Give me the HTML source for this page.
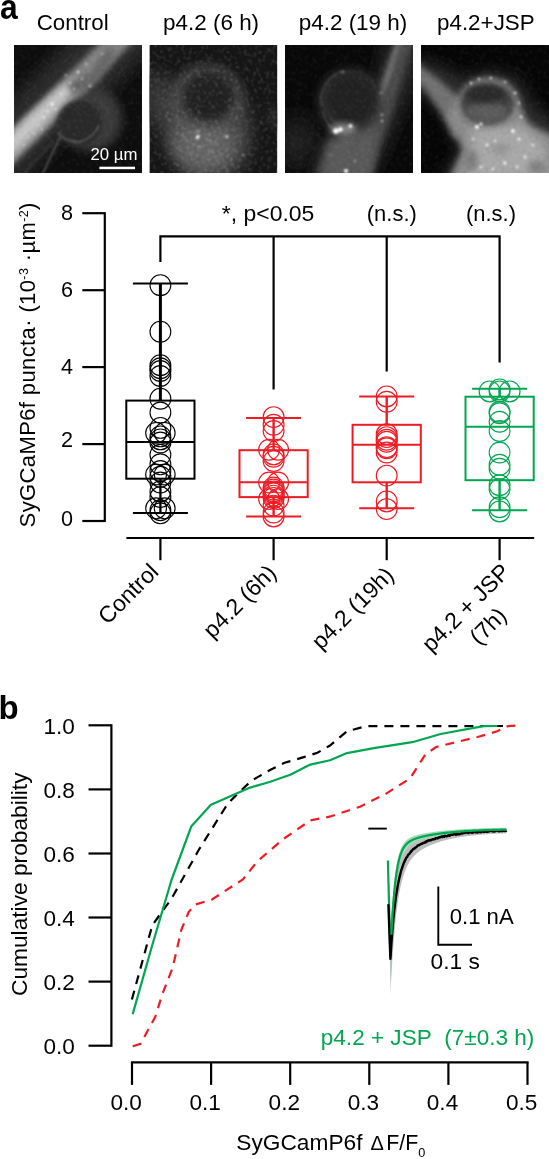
<!DOCTYPE html>
<html lang="en"><head><meta charset="utf-8"><title>Figure</title>
<style>
html,body{margin:0;padding:0;background:#fff;}
body{width:549px;height:1159px;overflow:hidden;}
svg{display:block;}
text{font-family:'Liberation Sans', Arial, Helvetica, sans-serif;}
</style></head><body>
<svg width="549" height="1159" viewBox="0 0 549 1159">
<defs>
<filter id="b1" x="-50%" y="-50%" width="200%" height="200%"><feGaussianBlur stdDeviation="1"/></filter>
<filter id="b2" x="-50%" y="-50%" width="200%" height="200%"><feGaussianBlur stdDeviation="2"/></filter>
<filter id="b3" x="-50%" y="-50%" width="200%" height="200%"><feGaussianBlur stdDeviation="3"/></filter>
<filter id="b5" x="-50%" y="-50%" width="200%" height="200%"><feGaussianBlur stdDeviation="5"/></filter>
<filter id="b8" x="-50%" y="-50%" width="200%" height="200%"><feGaussianBlur stdDeviation="8"/></filter>
<filter id="b12" x="-80%" y="-80%" width="260%" height="260%"><feGaussianBlur stdDeviation="12"/></filter>
<filter id="noise" x="0" y="0" width="100%" height="100%" color-interpolation-filters="sRGB">
<feTurbulence type="fractalNoise" baseFrequency="0.55" numOctaves="3" seed="4" result="t"/>
<feGaussianBlur in="t" stdDeviation="0.8" result="g"/>
<feColorMatrix in="g" type="matrix" values="0 0 0 0 1  0 0 0 0 1  0 0 0 0 1  12 0 0 0 -6"/>
</filter>
<filter id="noiseb" x="0" y="0" width="100%" height="100%" color-interpolation-filters="sRGB">
<feTurbulence type="fractalNoise" baseFrequency="0.55" numOctaves="3" seed="4" result="t"/>
<feGaussianBlur in="t" stdDeviation="0.8" result="g"/>
<feColorMatrix in="g" type="matrix" values="0 0 0 0 0  0 0 0 0 0  0 0 0 0 0  -12 0 0 0 6"/>
</filter>
</defs>
<rect width="549" height="1159" fill="#fff"/>
<g opacity="0.999">
<text x="-0.1" y="18.7" font-size="34.8" font-weight="bold" textLength="17.7" lengthAdjust="spacingAndGlyphs">a</text>
<text x="36.7" y="30.2" font-size="22.3" textLength="72" lengthAdjust="spacingAndGlyphs">Control</text>
<text x="163" y="30.2" font-size="22.5" textLength="96.1" lengthAdjust="spacingAndGlyphs">p4.2 (6 h)</text>
<text x="298.7" y="30.2" font-size="22.5" textLength="108.6" lengthAdjust="spacingAndGlyphs">p4.2 (19 h)</text>
<text x="437" y="30.2" font-size="22.5" textLength="97.7" lengthAdjust="spacingAndGlyphs">p4.2+JSP</text>
<svg x="14" y="45" width="128" height="128" viewBox="0 0 128 128" overflow="hidden">
<rect width="128" height="128" fill="#0e0e0e"/>
<g filter="url(#b8)"><polygon points="2.8,140.5 140.8,0.5 95.2,-44.5 -42.8,95.5" fill="#2c2c2c"/></g>
<g filter="url(#b5)"><ellipse cx="76" cy="74" rx="32" ry="32" fill="#3a3a3a"/></g>
<g filter="url(#b3)"><polygon points="-5.2,122.8 28.8,88.8 68.5,48.5 121.8,-6.2 106.2,-21.8 51.5,31.5 11.2,71.2 -22.8,105.2" fill="#848484"/></g>
<g filter="url(#b3)"><polygon points="-5.3,117.7 27.1,86.1 50.0,61.0 69.5,36.5 62.5,29.5 38.0,49.0 12.9,71.9 -18.7,104.3" fill="#a6a6a6"/></g>
<g filter="url(#b3)"><polygon points="-8.5,112.5 26.2,79.2 49.5,54.5 64.1,37.1 59.9,32.9 42.5,47.5 17.8,70.8 -15.5,105.5" fill="#c8c8c8"/></g>
<g filter="url(#b3)"><polygon points="59.6,51.2 84.1,36.3 102.2,6.7 93.8,1.3 75.9,27.7 52.4,36.8" fill="#666"/></g>
<g filter="url(#b2)"><circle cx="65.5" cy="78" r="22.5" fill="#2b2b2b"/></g>
<g filter="url(#b1)"><g fill="none" stroke="#606060" stroke-width="1.4"><path d="M44 88 Q52 97 64 97 Q78 95 85 80"/><path d="M46 92 L28 130"/><path d="M40 96 L10 128" stroke="#3a3a3a"/></g></g>
<g filter="url(#b1)"><circle cx="38" cy="59" r="1.5" fill="#fff"/><circle cx="64" cy="27" r="1.2" fill="#f0f0f0"/><circle cx="72" cy="19" r="1.1" fill="#ddd"/><circle cx="56" cy="38" r="1.1" fill="#e4e4e4"/><circle cx="30" cy="72" r="1.2" fill="#f0f0f0"/><circle cx="76" cy="41" r="1.2" fill="#ccc"/><circle cx="88" cy="9" r="1.0" fill="#ccc"/><circle cx="47" cy="49" r="1.1" fill="#f0f0f0"/><circle cx="24" cy="80" r="1.1" fill="#eee"/><circle cx="34" cy="66" r="1.1" fill="#eee"/><circle cx="68" cy="34" r="1.0" fill="#ddd"/><circle cx="14" cy="92" r="1.1" fill="#ddd"/><circle cx="52" cy="30" r="1.0" fill="#ccc"/><circle cx="42" cy="64" r="1.0" fill="#eee"/><circle cx="60" cy="44" r="1.0" fill="#d8d8d8"/><circle cx="20" cy="88" r="1.0" fill="#e8e8e8"/><circle cx="28" cy="84" r="1.0" fill="#e0e0e0"/><circle cx="10" cy="100" r="1.0" fill="#ddd"/></g>
<rect width="128" height="128" filter="url(#noise)" opacity="0.04"/><rect width="128" height="128" filter="url(#noiseb)" opacity="0.04"/>
<rect x="85.4" y="121.7" width="35.6" height="2.5" fill="#fff"/>
<g opacity="0.998"><text x="76.5" y="115.2" font-size="16.5" fill="#fff" textLength="47" lengthAdjust="spacingAndGlyphs">20 µm</text></g>
</svg>
<svg x="149.4" y="45" width="128" height="128" viewBox="0 0 128 128" overflow="hidden">
<rect width="128" height="128" fill="#171717"/>
<g filter="url(#b8)"><polygon points="-8,26 22,32 32,70 10,82 -8,66" fill="#343434"/></g>
<g filter="url(#b8)"><ellipse cx="57" cy="82" rx="43" ry="55" fill="#484848" transform="rotate(-14 57 82)"/></g>
<g filter="url(#b8)"><ellipse cx="54" cy="100" rx="30" ry="26" fill="#686868"/></g>
<g filter="url(#b5)"><ellipse cx="59" cy="52" rx="30" ry="28" fill="none" stroke="#505050" stroke-width="7"/></g>
<g filter="url(#b5)"><ellipse cx="59" cy="52.5" rx="26" ry="24" fill="#222"/></g>
<g filter="url(#b5)"><ellipse cx="124" cy="72" rx="6" ry="12" fill="#2c2c2c"/></g>
<g filter="url(#b1)"><circle cx="48.5" cy="92" r="1.9" fill="#fff"/><circle cx="77.5" cy="91.5" r="1.5" fill="#d0d0d0"/><circle cx="49" cy="86.5" r="1.1" fill="#c4c4c4"/><circle cx="49" cy="102" r="1" fill="#aaa"/><circle cx="60" cy="106" r="1" fill="#999"/><circle cx="94" cy="110" r="1" fill="#999"/></g>
<rect width="128" height="128" filter="url(#noise)" opacity="0.1"/><rect width="128" height="128" filter="url(#noiseb)" opacity="0.1"/>
</svg>
<svg x="285" y="45" width="128" height="128" viewBox="0 0 128 128" overflow="hidden">
<rect width="128" height="128" fill="#090909"/>
<g filter="url(#b12)"><ellipse cx="12" cy="98" rx="22" ry="26" fill="#222"/></g>
<g filter="url(#b8)"><polygon points="100,-8 136,-8 136,24 98,110 84,136 26,136 40,100 84,72" fill="#282828"/></g>
<g filter="url(#b3)"><polygon points="114.4,-12.6 99.0,26.9 85.7,62.2 69.9,95.2 54.0,130.6 82.0,141.4 94.1,104.8 106.3,69.8 117.0,33.1 129.6,-7.4" fill="#4c4c4c"/></g>
<g filter="url(#b2)"><polygon points="114.1,-10.6 100.9,29.3 90.1,61.3 93.9,62.7 105.1,30.7 117.9,-9.4" fill="#747474"/></g>
<g filter="url(#b5)"><polygon points="42,96 62,85 92,78 86,134 32,134" fill="#5a5a5a"/></g>
<g filter="url(#b5)"><circle cx="65.5" cy="56" r="32" fill="#343434"/></g>
<g filter="url(#b3)"><circle cx="66" cy="54" r="26" fill="#242424"/></g>
<g filter="url(#b1)"><path d="M37 62 A30 30 0 0 1 58 26" fill="none" stroke="#484848" stroke-width="1.3"/><path d="M38 66 Q40 78 48 84" fill="none" stroke="#505050" stroke-width="1.3"/></g>
<g filter="url(#b3)"><ellipse cx="58" cy="84" rx="14" ry="5.5" fill="#8a8a8a"/></g>
<g filter="url(#b1)"><circle cx="51" cy="86" r="2.8" fill="#fff"/><circle cx="55.5" cy="84.5" r="2.2" fill="#fff"/><circle cx="65.5" cy="81" r="2.0" fill="#f0f0f0"/><circle cx="61" cy="126" r="2.2" fill="#e8e8e8"/><circle cx="58" cy="27" r="1.6" fill="#777"/><circle cx="96" cy="48" r="1.2" fill="#888"/><circle cx="97" cy="70" r="1.4" fill="#999"/><circle cx="97" cy="76" r="1.4" fill="#999"/><circle cx="70" cy="116" r="1.3" fill="#999"/><circle cx="45" cy="110" r="1.2" fill="#888"/></g>
<rect width="128" height="128" filter="url(#noise)" opacity="0.035"/><rect width="128" height="128" filter="url(#noiseb)" opacity="0.035"/>
</svg>
<svg x="421" y="45" width="128" height="128" viewBox="0 0 128 128" overflow="hidden">
<rect width="128" height="128" fill="#060606"/>
<g filter="url(#b8)"><polygon points="-10,12 20,22 44,34 66,26 96,32 112,60 136,78 136,136 20,136 40,104 20,64 -10,42" fill="#2e2e2e"/></g>
<g filter="url(#b3)"><polygon points="-14.2,26.9 6.1,47.1 20.4,68.2 33.4,94.1 58.6,77.9 39.6,53.8 17.9,34.9 -5.8,17.1" fill="#727272"/></g>
<g filter="url(#b3)"><polygon points="41.6,44.3 51.5,35.7 66.4,32 83.7,35.7 96,48 101,65.4 108.5,80 136,92 136,136 27,136 41.6,105 34,87.7 26,70" fill="#8a8a8a"/></g>
<g filter="url(#b5)"><polygon points="48,84 100,80 124,100 126,132 44,134 52,108" fill="#a8a8a8"/></g>
<g filter="url(#b3)"><ellipse cx="50" cy="116" rx="7" ry="10" fill="#7c7c7c"/><ellipse cx="116" cy="122" rx="9" ry="7" fill="#808080"/><ellipse cx="80" cy="104" rx="8" ry="5" fill="#909090"/></g>
<g filter="url(#b3)"><ellipse cx="66.5" cy="58.5" rx="27" ry="20.5" fill="#3c3c3c"/></g>
<g filter="url(#b3)"><ellipse cx="66" cy="67" rx="21" ry="11" fill="#5c5c5c"/></g>
<g filter="url(#b3)"><ellipse cx="64" cy="49" rx="20" ry="9" fill="#2a2a2a"/></g>
<g filter="url(#b1)"><circle cx="56" cy="82" r="1.9" fill="#fff"/><circle cx="60" cy="79" r="1.5" fill="#f6f6f6"/><circle cx="92" cy="86" r="1.9" fill="#f6f6f6"/><circle cx="98" cy="94" r="1.6" fill="#f2f2f2"/><circle cx="66" cy="100" r="1.5" fill="#f2f2f2"/><circle cx="84" cy="118" r="1.7" fill="#f4f4f4"/><circle cx="104" cy="112" r="1.5" fill="#f2f2f2"/><circle cx="60" cy="122" r="1.6" fill="#f2f2f2"/><circle cx="50" cy="38" r="1.3" fill="#e0e0e0"/><circle cx="58" cy="34" r="1.2" fill="#e0e0e0"/><circle cx="70" cy="33" r="1.2" fill="#e0e0e0"/><circle cx="84" cy="37" r="1.2" fill="#d0d0d0"/><circle cx="94" cy="48" r="1.3" fill="#e0e0e0"/><circle cx="98" cy="58" r="1.2" fill="#d0d0d0"/><circle cx="100" cy="72" r="1.4" fill="#e0e0e0"/><circle cx="74" cy="96" r="1.4" fill="#e8e8e8"/><circle cx="112" cy="100" r="1.4" fill="#e8e8e8"/><circle cx="72" cy="124" r="1.4" fill="#e8e8e8"/><circle cx="52" cy="94" r="1.4" fill="#e8e8e8"/><circle cx="96" cy="122" r="1.4" fill="#e8e8e8"/></g>
<rect width="128" height="128" filter="url(#noise)" opacity="0.04"/><rect width="128" height="128" filter="url(#noiseb)" opacity="0.04"/>
</svg>
<g stroke="#000" stroke-width="2.2" fill="none" stroke-linecap="butt">
<path d="M104.8 212.14000000000001 V522.1"/>
<path d="M82.3 521.0 H104.8"/>
<path d="M82.3 444.1 H104.8"/>
<path d="M82.3 367.1 H104.8"/>
<path d="M82.3 290.2 H104.8"/>
<path d="M82.3 213.2 H104.8"/>
<path d="M126.4 538 H534.2"/>
<path d="M160.4 538 V560.2"/>
<path d="M273.6 538 V560.2"/>
<path d="M386.7 538 V560.2"/>
<path d="M499.6 538 V560.2"/>
<path d="M160.4 262 V236.3 H499.6 V362.5"/>
<path d="M273.6 236.3 V389.5"/>
<path d="M386.7 236.3 V371.5"/>
</g>
<text x="73.1" y="220.0" font-size="21.6" text-anchor="end">8</text>
<text x="73.1" y="296.9" font-size="21.6" text-anchor="end">6</text>
<text x="73.1" y="373.8" font-size="21.6" text-anchor="end">4</text>
<text x="73.1" y="446.8" font-size="21.6" text-anchor="end">2</text>
<text x="73.1" y="526.4" font-size="21.6" text-anchor="end">0</text>
<text transform="translate(35.2 527.4) rotate(-90)" font-size="22" textLength="324.8" lengthAdjust="spacing">SyGCaMP6f puncta· (10<tspan font-size="12.5" dy="-7.5">-3</tspan><tspan dy="7.5"> ·µm</tspan><tspan font-size="12.5" dy="-7.5">-2</tspan><tspan dy="7.5">)</tspan></text>
<text x="221.8" y="221.4" font-size="22" textLength="92.5" lengthAdjust="spacingAndGlyphs">*, p&lt;0.05</text>
<text x="366.8" y="221.4" font-size="22" textLength="50" lengthAdjust="spacingAndGlyphs">(n.s.)</text>
<text x="466" y="221.4" font-size="22" textLength="50" lengthAdjust="spacingAndGlyphs">(n.s.)</text>
<text transform="translate(159.9 573.1) rotate(-45)" font-size="23" text-anchor="end">Control</text>
<text transform="translate(277.7 574.3) rotate(-45)" font-size="23" text-anchor="end">p4.2 (6h)</text>
<text transform="translate(395.2 576.6) rotate(-45)" font-size="23" text-anchor="end">p4.2 (19h)</text>
<text transform="translate(511.3 573.2) rotate(-45)" font-size="23" text-anchor="end">p4.2 + JSP</text>
<text transform="translate(508 617) rotate(-45)" font-size="23" text-anchor="end">(7h)</text>
<g stroke="#000" fill="none">
<g stroke-width="1.1">
<circle cx="160.4" cy="285.2" r="10.4"/>
<circle cx="160.4" cy="331.7" r="10.4"/>
<circle cx="160.4" cy="365.2" r="10.4"/>
<circle cx="160.4" cy="368.3" r="10.4"/>
<circle cx="160.4" cy="371.0" r="10.4"/>
<circle cx="160.4" cy="376.0" r="10.4"/>
<circle cx="160.4" cy="398.7" r="10.4"/>
<circle cx="160.4" cy="412.5" r="10.4"/>
<circle cx="160.4" cy="427.9" r="10.4"/>
<circle cx="156.1" cy="432.9" r="10.4"/>
<circle cx="164.7" cy="432.9" r="10.4"/>
<circle cx="160.4" cy="436.4" r="10.4"/>
<circle cx="160.4" cy="439.4" r="10.4"/>
<circle cx="160.4" cy="442.5" r="10.4"/>
<circle cx="160.4" cy="454.8" r="10.4"/>
<circle cx="160.4" cy="464.3" r="10.4"/>
<circle cx="156.1" cy="474.5" r="10.4"/>
<circle cx="164.7" cy="474.5" r="10.4"/>
<circle cx="160.4" cy="471.0" r="10.4"/>
<circle cx="160.4" cy="476.8" r="10.4"/>
<circle cx="160.4" cy="482.5" r="10.4"/>
<circle cx="160.4" cy="491.4" r="10.4"/>
<circle cx="160.4" cy="497.1" r="10.4"/>
<circle cx="156.1" cy="508.3" r="10.4"/>
<circle cx="164.7" cy="508.3" r="10.4"/>
<circle cx="160.4" cy="510.2" r="10.4"/>
<circle cx="160.4" cy="513.3" r="10.4"/>
</g>
<g stroke-width="2.0">
<rect x="126.3" y="400.6" width="68.2" height="78.1"/>
<path d="M126.3 442.1 H194.5"/>
<path d="M132.9 283.6 H187.9 M132.9 512.9 H187.9"/>
</g>
<path stroke-width="3.0" d="M160.4 283.6 V400.6"/><path stroke-width="2.3" d="M160.4 478.7 V512.9"/>
</g>
<g stroke="#ed1c24" fill="none">
<g stroke-width="1.15">
<circle cx="273.6" cy="417.1" r="10.4"/>
<circle cx="273.6" cy="424.8" r="10.4"/>
<circle cx="273.6" cy="431.0" r="10.4"/>
<circle cx="269.1" cy="449.8" r="10.4"/>
<circle cx="278.1" cy="449.8" r="10.4"/>
<circle cx="273.6" cy="454.4" r="10.4"/>
<circle cx="273.6" cy="456.8" r="10.4"/>
<circle cx="273.6" cy="461.0" r="10.4"/>
<circle cx="269.1" cy="482.5" r="10.4"/>
<circle cx="278.1" cy="482.5" r="10.4"/>
<circle cx="273.6" cy="487.5" r="10.4"/>
<circle cx="273.6" cy="489.5" r="10.4"/>
<circle cx="273.6" cy="491.4" r="10.4"/>
<circle cx="273.6" cy="493.3" r="10.4"/>
<circle cx="273.6" cy="495.6" r="10.4"/>
<circle cx="273.6" cy="497.9" r="10.4"/>
<circle cx="269.1" cy="499.1" r="10.4"/>
<circle cx="278.1" cy="499.1" r="10.4"/>
<circle cx="273.6" cy="505.6" r="10.4"/>
<circle cx="273.6" cy="512.5" r="10.4"/>
<circle cx="273.6" cy="516.4" r="10.4"/>
</g>
<g stroke-width="2.0">
<rect x="239.5" y="450.2" width="68.2" height="46.9"/>
<path d="M239.5 482.3 H307.7"/>
<path d="M246.1 418.1 H301.1 M246.1 516.4 H301.1"/>
</g>
<path stroke-width="2.4" d="M273.6 418.1 V450.2"/><path stroke-width="2.4" d="M273.6 497.1 V516.4"/>
</g>
<g stroke="#ed1c24" fill="none">
<g stroke-width="1.15">
<circle cx="386.7" cy="396.4" r="10.4"/>
<circle cx="386.7" cy="401.7" r="10.4"/>
<circle cx="386.7" cy="434.1" r="10.4"/>
<circle cx="386.7" cy="437.1" r="10.4"/>
<circle cx="386.7" cy="439.8" r="10.4"/>
<circle cx="386.7" cy="441.8" r="10.4"/>
<circle cx="386.7" cy="447.1" r="10.4"/>
<circle cx="386.7" cy="448.3" r="10.4"/>
<circle cx="386.7" cy="452.5" r="10.4"/>
<circle cx="386.7" cy="475.6" r="10.4"/>
<circle cx="386.7" cy="501.4" r="10.4"/>
<circle cx="386.7" cy="509.1" r="10.4"/>
</g>
<g stroke-width="2.0">
<rect x="352.6" y="424.8" width="68.2" height="57.5"/>
<path d="M352.6 444.8 H420.8"/>
<path d="M359.2 396.4 H414.2 M359.2 508.3 H414.2"/>
</g>
<path stroke-width="2.4" d="M386.7 396.4 V424.8"/><path stroke-width="2.4" d="M386.7 482.3 V508.3"/>
</g>
<g stroke="#00a651" fill="none">
<g stroke-width="1.15">
<circle cx="499.6" cy="389.4" r="10.4"/>
<circle cx="489.6" cy="391.4" r="10.4"/>
<circle cx="499.6" cy="391.4" r="10.4"/>
<circle cx="509.6" cy="391.4" r="10.4"/>
<circle cx="499.6" cy="411.7" r="10.4"/>
<circle cx="499.6" cy="413.3" r="10.4"/>
<circle cx="499.6" cy="421.7" r="10.4"/>
<circle cx="499.6" cy="431.0" r="10.4"/>
<circle cx="499.6" cy="452.5" r="10.4"/>
<circle cx="499.6" cy="464.8" r="10.4"/>
<circle cx="499.6" cy="468.7" r="10.4"/>
<circle cx="499.6" cy="485.2" r="10.4"/>
<circle cx="499.6" cy="489.1" r="10.4"/>
<circle cx="499.6" cy="507.2" r="10.4"/>
<circle cx="499.6" cy="511.4" r="10.4"/>
</g>
<g stroke-width="2.0">
<rect x="465.5" y="396.7" width="68.2" height="83.5"/>
<path d="M465.5 426.7 H533.7"/>
<path d="M472.1 388.7 H527.1 M472.1 510.2 H527.1"/>
</g>
<path stroke-width="2.4" d="M499.6 388.7 V396.7"/><path stroke-width="2.4" d="M499.6 480.2 V510.2"/>
</g>
<text x="-1.5" y="719.4" font-size="33" font-weight="bold">b</text>
<g stroke="#000" stroke-width="2.2" fill="none">
<path d="M111.4 724.2 V1046.8"/>
<path d="M88.5 1045.7 H111.4"/>
<path d="M88.5 981.6 H111.4"/>
<path d="M88.5 917.5 H111.4"/>
<path d="M88.5 853.5 H111.4"/>
<path d="M88.5 789.4 H111.4"/>
<path d="M88.5 725.3 H111.4"/>
<path d="M130.9 1062.4 H528.6"/>
<path d="M132.0 1062.4 V1084.9"/>
<path d="M211.1 1062.4 V1084.9"/>
<path d="M290.2 1062.4 V1084.9"/>
<path d="M369.3 1062.4 V1084.9"/>
<path d="M448.4 1062.4 V1084.9"/>
<path d="M527.5 1062.4 V1084.9"/>
</g>
<text x="43.5" y="1054.1" font-size="22.6" textLength="31.4" lengthAdjust="spacingAndGlyphs">0.0</text>
<text x="43.5" y="990.0" font-size="22.6" textLength="31.4" lengthAdjust="spacingAndGlyphs">0.2</text>
<text x="43.5" y="925.9" font-size="22.6" textLength="31.4" lengthAdjust="spacingAndGlyphs">0.4</text>
<text x="43.5" y="861.9" font-size="22.6" textLength="31.4" lengthAdjust="spacingAndGlyphs">0.6</text>
<text x="43.5" y="797.8" font-size="22.6" textLength="31.4" lengthAdjust="spacingAndGlyphs">0.8</text>
<text x="43.5" y="733.7" font-size="22.6" textLength="31.4" lengthAdjust="spacingAndGlyphs">1.0</text>
<text x="110.4" y="1109.6" font-size="22.6" textLength="31.4" lengthAdjust="spacingAndGlyphs">0.0</text>
<text x="189.5" y="1109.6" font-size="22.6" textLength="31.4" lengthAdjust="spacingAndGlyphs">0.1</text>
<text x="268.6" y="1109.6" font-size="22.6" textLength="31.4" lengthAdjust="spacingAndGlyphs">0.2</text>
<text x="347.7" y="1109.6" font-size="22.6" textLength="31.4" lengthAdjust="spacingAndGlyphs">0.3</text>
<text x="426.8" y="1109.6" font-size="22.6" textLength="31.4" lengthAdjust="spacingAndGlyphs">0.4</text>
<text x="505.9" y="1109.6" font-size="22.6" textLength="31.4" lengthAdjust="spacingAndGlyphs">0.5</text>
<text transform="translate(27.3 996) rotate(-90)" font-size="22.6" textLength="223.5" lengthAdjust="spacingAndGlyphs">Cumulative probability</text>
<text y="1149.7" font-size="22.6"><tspan x="236.3" textLength="126.2" lengthAdjust="spacingAndGlyphs">SyGCamP6f</tspan><tspan x="370.6" font-size="20">Δ</tspan><tspan x="386.2" textLength="32" lengthAdjust="spacingAndGlyphs">F/F</tspan><tspan x="418.3" font-size="12.7" dy="7.6">0</tspan></text>
<text x="320.8" y="1044.8" font-size="22" fill="#00a651" textLength="213.5" lengthAdjust="spacingAndGlyphs">p4.2 + JSP&#160;&#160;(7±0.3 h)</text>
<polyline points="131.9,999.5 152.3,925.2 171.9,898.0 198.7,850.0 217.7,819.6 227.9,803.5 238.1,793.3 251.2,780.9 270.0,770.0 284.6,762.8 302.9,757.4 317.4,752.8 330.0,745.5 347.0,731.3 366.6,726.1 503.0,726.0" fill="none" stroke="#000" stroke-width="2.2" stroke-dasharray="9 7"/>
<polyline points="132.7,1046.2 140.6,1043.8 155.2,1017.0 162.5,993.7 172.7,967.5 181.4,929.6 188.7,912.0 194.5,904.8 212.0,899.5 242.9,879.4 257.5,861.2 283.0,839.3 310.3,820.4 329.6,816.7 360.0,806.7 386.2,793.6 410.1,778.4 425.4,754.4 436.2,747.0 477.6,737.0 497.2,731.3 508.1,726.1 518.0,725.5" fill="none" stroke="#ed1c24" stroke-width="2.2" stroke-dasharray="9 7"/>
<polyline points="132.7,1014.1 152.0,946.0 171.5,880.0 191.2,826.6 210.9,804.7 230.9,796.0 250.2,787.6 270.3,781.8 290.3,774.8 310.3,764.6 330.0,760.3 347.0,753.1 375.3,747.9 412.3,742.2 440.6,734.0 471.1,728.3 484.0,726.1 497.2,726.0" fill="none" stroke="#00a651" stroke-width="2.2" stroke-linejoin="round"/>
<path d="M368.3 828.6 H386.8" stroke="#000" stroke-width="1.9"/>
<polygon points="390.4,922.9 390.9,917.0 391.4,911.5 391.9,906.4 392.4,901.7 392.9,897.4 393.4,893.4 393.9,889.7 394.4,886.2 394.9,883.0 395.4,880.1 395.9,877.3 396.4,874.8 396.9,872.4 397.4,870.2 397.9,868.1 398.4,866.2 398.9,864.4 399.4,862.8 399.9,861.3 400.4,859.8 400.9,858.5 401.4,857.2 401.9,856.0 402.4,854.9 402.9,853.9 403.4,852.9 403.9,852.0 404.4,851.2 404.9,850.4 405.4,849.6 405.9,848.9 406.4,848.2 406.9,847.6 407.4,847.0 407.9,846.4 408.4,845.9 408.9,845.4 409.4,844.9 409.9,844.4 410.4,844.0 410.9,843.6 411.4,843.2 411.9,842.8 412.4,842.4 412.9,842.1 413.4,841.7 413.9,841.4 414.4,841.1 414.9,840.8 415.4,840.5 415.9,840.3 416.4,840.0 416.9,839.7 417.4,839.5 417.9,839.2 418.4,839.0 418.9,838.8 419.4,838.6 419.9,838.4 420.4,838.2 420.9,838.0 421.4,837.8 421.9,837.6 422.4,837.4 422.9,837.2 423.4,837.0 423.9,836.9 424.4,836.7 424.9,836.5 425.4,836.4 425.9,836.2 426.4,836.1 426.9,835.9 427.4,835.8 427.9,835.6 428.4,835.5 428.9,835.4 429.4,835.2 429.9,835.1 430.4,835.0 430.9,834.8 431.4,834.7 431.9,834.6 432.4,834.5 432.9,834.4 433.4,834.2 433.9,834.1 434.4,834.0 434.9,833.9 435.4,833.8 435.9,833.7 436.4,833.6 436.9,833.5 437.4,833.4 437.9,833.3 438.4,833.2 438.9,833.1 439.4,833.0 439.9,832.9 440.4,832.8 440.9,832.7 441.4,832.7 441.9,832.6 442.4,832.5 442.9,832.4 443.4,832.3 443.9,832.2 444.4,832.2 444.9,832.1 445.4,832.0 445.9,831.9 446.4,831.9 446.9,831.8 447.4,831.7 447.9,831.6 448.4,831.6 448.9,831.5 449.4,831.4 449.9,831.4 450.4,831.3 450.9,831.2 451.4,831.2 451.9,831.1 452.4,831.1 452.9,831.0 453.4,830.9 453.9,830.9 454.4,830.8 454.9,830.8 455.4,830.7 455.9,830.7 456.4,830.6 456.9,830.6 457.4,830.5 457.9,830.5 458.4,830.4 458.9,830.4 459.4,830.3 459.9,830.3 460.4,830.2 460.9,830.2 461.4,830.1 461.9,830.1 462.4,830.0 462.9,830.0 463.4,829.9 463.9,829.9 464.4,829.9 464.9,829.8 465.4,829.8 465.9,829.7 466.4,829.7 466.9,829.7 467.4,829.6 467.9,829.6 468.4,829.5 468.9,829.5 469.4,829.5 469.9,829.4 470.4,829.4 470.9,829.4 471.4,829.3 471.9,829.3 472.4,829.3 472.9,829.2 473.4,829.2 473.9,829.2 474.4,829.1 474.9,829.1 475.4,829.1 475.9,829.1 476.4,829.0 476.9,829.0 477.4,829.0 477.9,828.9 478.4,828.9 478.9,828.9 479.4,828.9 479.9,828.8 480.4,828.8 480.9,828.8 481.4,828.8 481.9,828.7 482.4,828.7 482.9,828.7 483.4,828.7 483.9,828.6 484.4,828.6 484.9,828.6 485.4,828.6 485.9,828.6 486.4,828.5 486.9,828.5 487.4,828.5 487.9,828.5 488.4,828.5 488.9,828.4 489.4,828.4 489.9,828.4 490.4,828.4 490.9,828.4 491.4,828.3 491.9,828.3 492.4,828.3 492.9,828.3 493.4,828.3 493.9,828.3 494.4,828.2 494.9,828.2 495.4,828.2 495.9,828.2 496.4,828.2 496.9,828.2 497.4,828.1 497.9,828.1 498.4,828.1 498.9,828.1 499.4,828.1 499.9,828.1 500.4,828.1 500.9,828.0 501.4,828.0 501.9,828.0 502.4,828.0 502.9,828.0 503.4,828.0 503.9,828.0 504.4,828.0 504.9,827.9 505.4,827.9 505.9,827.9 506.4,827.9 506.4,833.2 505.9,833.2 505.4,833.3 504.9,833.3 504.4,833.3 503.9,833.3 503.4,833.3 502.9,833.4 502.4,833.4 501.9,833.4 501.4,833.4 500.9,833.4 500.4,833.5 499.9,833.5 499.4,833.5 498.9,833.5 498.4,833.6 497.9,833.6 497.4,833.6 496.9,833.6 496.4,833.7 495.9,833.7 495.4,833.7 494.9,833.7 494.4,833.8 493.9,833.8 493.4,833.8 492.9,833.9 492.4,833.9 491.9,833.9 491.4,833.9 490.9,834.0 490.4,834.0 489.9,834.0 489.4,834.1 488.9,834.1 488.4,834.1 487.9,834.2 487.4,834.2 486.9,834.2 486.4,834.3 485.9,834.3 485.4,834.3 484.9,834.4 484.4,834.4 483.9,834.5 483.4,834.5 482.9,834.5 482.4,834.6 481.9,834.6 481.4,834.7 480.9,834.7 480.4,834.7 479.9,834.8 479.4,834.8 478.9,834.9 478.4,834.9 477.9,835.0 477.4,835.0 476.9,835.1 476.4,835.1 475.9,835.2 475.4,835.2 474.9,835.3 474.4,835.3 473.9,835.4 473.4,835.4 472.9,835.5 472.4,835.5 471.9,835.6 471.4,835.6 470.9,835.7 470.4,835.7 469.9,835.8 469.4,835.9 468.9,835.9 468.4,836.0 467.9,836.0 467.4,836.1 466.9,836.2 466.4,836.2 465.9,836.3 465.4,836.4 464.9,836.4 464.4,836.5 463.9,836.6 463.4,836.7 462.9,836.7 462.4,836.8 461.9,836.9 461.4,837.0 460.9,837.0 460.4,837.1 459.9,837.2 459.4,837.3 458.9,837.4 458.4,837.4 457.9,837.5 457.4,837.6 456.9,837.7 456.4,837.8 455.9,837.9 455.4,838.0 454.9,838.1 454.4,838.2 453.9,838.3 453.4,838.4 452.9,838.5 452.4,838.6 451.9,838.7 451.4,838.8 450.9,838.9 450.4,839.0 449.9,839.1 449.4,839.2 448.9,839.3 448.4,839.5 447.9,839.6 447.4,839.7 446.9,839.8 446.4,839.9 445.9,840.1 445.4,840.2 444.9,840.3 444.4,840.5 443.9,840.6 443.4,840.7 442.9,840.9 442.4,841.0 441.9,841.1 441.4,841.3 440.9,841.4 440.4,841.6 439.9,841.7 439.4,841.9 438.9,842.1 438.4,842.2 437.9,842.4 437.4,842.5 436.9,842.7 436.4,842.9 435.9,843.1 435.4,843.2 434.9,843.4 434.4,843.6 433.9,843.8 433.4,844.0 432.9,844.2 432.4,844.4 431.9,844.6 431.4,844.8 430.9,845.0 430.4,845.2 429.9,845.4 429.4,845.7 428.9,845.9 428.4,846.1 427.9,846.4 427.4,846.6 426.9,846.8 426.4,847.1 425.9,847.4 425.4,847.6 424.9,847.9 424.4,848.2 423.9,848.5 423.4,848.7 422.9,849.0 422.4,849.3 421.9,849.7 421.4,850.0 420.9,850.3 420.4,850.7 419.9,851.0 419.4,851.4 418.9,851.7 418.4,852.1 417.9,852.5 417.4,852.9 416.9,853.3 416.4,853.8 415.9,854.2 415.4,854.7 414.9,855.2 414.4,855.7 413.9,856.2 413.4,856.8 412.9,857.3 412.4,857.9 411.9,858.6 411.4,859.2 410.9,859.9 410.4,860.6 409.9,861.3 409.4,862.1 408.9,863.0 408.4,863.8 407.9,864.7 407.4,865.7 406.9,866.7 406.4,867.8 405.9,869.0 405.4,870.2 404.9,871.5 404.4,872.8 403.9,874.3 403.4,875.8 402.9,877.5 402.4,879.2 401.9,881.1 401.4,883.1 400.9,885.2 400.4,887.5 399.9,890.0 399.4,892.6 398.9,895.4 398.4,898.4 397.9,901.7 397.4,905.2 396.9,908.9 396.4,913.0 395.9,917.3 395.4,922.0 394.9,927.0 394.4,932.5 393.9,938.3 393.4,944.7 392.9,951.5 392.4,958.9 391.9,966.9 391.4,975.5 390.9,984.8 390.4,994.9" fill="#bcbcbc"/>
<path d="M388.6 905 L390.4 985 L392.2 940 Z" fill="#bcbcbc"/>
<polygon points="390.4,937.2 390.9,927.1 391.4,918.1 391.9,910.0 392.4,902.7 392.9,896.2 393.4,890.3 393.9,885.0 394.4,880.3 394.9,876.0 395.4,872.2 395.9,868.8 396.4,865.7 396.9,862.9 397.4,860.4 397.9,858.1 398.4,856.1 398.9,854.2 399.4,852.5 399.9,851.0 400.4,849.6 400.9,848.4 401.4,847.3 401.9,846.3 402.4,845.3 402.9,844.5 403.4,843.7 403.9,843.0 404.4,842.3 404.9,841.7 405.4,841.2 405.9,840.7 406.4,840.2 406.9,839.8 407.4,839.4 407.9,839.0 408.4,838.7 408.9,838.4 409.4,838.1 409.9,837.8 410.4,837.5 410.9,837.3 411.4,837.0 411.9,836.8 412.4,836.6 412.9,836.4 413.4,836.2 413.9,836.0 414.4,835.9 414.9,835.7 415.4,835.5 415.9,835.4 416.4,835.2 416.9,835.1 417.4,835.0 417.9,834.8 418.4,834.7 418.9,834.6 419.4,834.5 419.9,834.3 420.4,834.2 420.9,834.1 421.4,834.0 421.9,833.9 422.4,833.8 422.9,833.7 423.4,833.6 423.9,833.5 424.4,833.4 424.9,833.3 425.4,833.2 425.9,833.1 426.4,833.0 426.9,832.9 427.4,832.9 427.9,832.8 428.4,832.7 428.9,832.6 429.4,832.5 429.9,832.5 430.4,832.4 430.9,832.3 431.4,832.2 431.9,832.2 432.4,832.1 432.9,832.0 433.4,831.9 433.9,831.9 434.4,831.8 434.9,831.7 435.4,831.7 435.9,831.6 436.4,831.5 436.9,831.5 437.4,831.4 437.9,831.4 438.4,831.3 438.9,831.2 439.4,831.2 439.9,831.1 440.4,831.1 440.9,831.0 441.4,830.9 441.9,830.9 442.4,830.8 442.9,830.8 443.4,830.7 443.9,830.7 444.4,830.6 444.9,830.6 445.4,830.5 445.9,830.5 446.4,830.4 446.9,830.4 447.4,830.3 447.9,830.3 448.4,830.2 448.9,830.2 449.4,830.2 449.9,830.1 450.4,830.1 450.9,830.0 451.4,830.0 451.9,829.9 452.4,829.9 452.9,829.9 453.4,829.8 453.9,829.8 454.4,829.8 454.9,829.7 455.4,829.7 455.9,829.6 456.4,829.6 456.9,829.6 457.4,829.5 457.9,829.5 458.4,829.5 458.9,829.4 459.4,829.4 459.9,829.4 460.4,829.3 460.9,829.3 461.4,829.3 461.9,829.2 462.4,829.2 462.9,829.2 463.4,829.2 463.9,829.1 464.4,829.1 464.9,829.1 465.4,829.0 465.9,829.0 466.4,829.0 466.9,829.0 467.4,828.9 467.9,828.9 468.4,828.9 468.9,828.9 469.4,828.8 469.9,828.8 470.4,828.8 470.9,828.8 471.4,828.7 471.9,828.7 472.4,828.7 472.9,828.7 473.4,828.6 473.9,828.6 474.4,828.6 474.9,828.6 475.4,828.6 475.9,828.5 476.4,828.5 476.9,828.5 477.4,828.5 477.9,828.5 478.4,828.4 478.9,828.4 479.4,828.4 479.9,828.4 480.4,828.4 480.9,828.3 481.4,828.3 481.9,828.3 482.4,828.3 482.9,828.3 483.4,828.3 483.9,828.2 484.4,828.2 484.9,828.2 485.4,828.2 485.9,828.2 486.4,828.2 486.9,828.1 487.4,828.1 487.9,828.1 488.4,828.1 488.9,828.1 489.4,828.1 489.9,828.1 490.4,828.0 490.9,828.0 491.4,828.0 491.9,828.0 492.4,828.0 492.9,828.0 493.4,828.0 493.9,828.0 494.4,827.9 494.9,827.9 495.4,827.9 495.9,827.9 496.4,827.9 496.9,827.9 497.4,827.9 497.9,827.9 498.4,827.9 498.9,827.8 499.4,827.8 499.9,827.8 500.4,827.8 500.9,827.8 501.4,827.8 501.9,827.8 502.4,827.8 502.9,827.8 503.4,827.8 503.9,827.7 504.4,827.7 504.9,827.7 505.4,827.7 505.9,827.7 506.4,827.7 506.4,831.5 505.9,831.5 505.4,831.5 504.9,831.5 504.4,831.5 503.9,831.6 503.4,831.6 502.9,831.6 502.4,831.6 501.9,831.6 501.4,831.6 500.9,831.6 500.4,831.6 499.9,831.7 499.4,831.7 498.9,831.7 498.4,831.7 497.9,831.7 497.4,831.7 496.9,831.7 496.4,831.8 495.9,831.8 495.4,831.8 494.9,831.8 494.4,831.8 493.9,831.8 493.4,831.9 492.9,831.9 492.4,831.9 491.9,831.9 491.4,831.9 490.9,831.9 490.4,832.0 489.9,832.0 489.4,832.0 488.9,832.0 488.4,832.0 487.9,832.1 487.4,832.1 486.9,832.1 486.4,832.1 485.9,832.1 485.4,832.2 484.9,832.2 484.4,832.2 483.9,832.2 483.4,832.2 482.9,832.3 482.4,832.3 481.9,832.3 481.4,832.3 480.9,832.3 480.4,832.4 479.9,832.4 479.4,832.4 478.9,832.4 478.4,832.5 477.9,832.5 477.4,832.5 476.9,832.5 476.4,832.6 475.9,832.6 475.4,832.6 474.9,832.7 474.4,832.7 473.9,832.7 473.4,832.7 472.9,832.8 472.4,832.8 471.9,832.8 471.4,832.9 470.9,832.9 470.4,832.9 469.9,833.0 469.4,833.0 468.9,833.0 468.4,833.1 467.9,833.1 467.4,833.1 466.9,833.2 466.4,833.2 465.9,833.2 465.4,833.3 464.9,833.3 464.4,833.3 463.9,833.4 463.4,833.4 462.9,833.5 462.4,833.5 461.9,833.5 461.4,833.6 460.9,833.6 460.4,833.7 459.9,833.7 459.4,833.7 458.9,833.8 458.4,833.8 457.9,833.9 457.4,833.9 456.9,834.0 456.4,834.0 455.9,834.1 455.4,834.1 454.9,834.2 454.4,834.2 453.9,834.3 453.4,834.3 452.9,834.4 452.4,834.4 451.9,834.5 451.4,834.5 450.9,834.6 450.4,834.6 449.9,834.7 449.4,834.8 448.9,834.8 448.4,834.9 447.9,834.9 447.4,835.0 446.9,835.1 446.4,835.1 445.9,835.2 445.4,835.2 444.9,835.3 444.4,835.4 443.9,835.4 443.4,835.5 442.9,835.6 442.4,835.7 441.9,835.7 441.4,835.8 440.9,835.9 440.4,835.9 439.9,836.0 439.4,836.1 438.9,836.2 438.4,836.3 437.9,836.3 437.4,836.4 436.9,836.5 436.4,836.6 435.9,836.7 435.4,836.8 434.9,836.8 434.4,836.9 433.9,837.0 433.4,837.1 432.9,837.2 432.4,837.3 431.9,837.4 431.4,837.5 430.9,837.6 430.4,837.7 429.9,837.8 429.4,837.9 428.9,838.0 428.4,838.1 427.9,838.2 427.4,838.3 426.9,838.5 426.4,838.6 425.9,838.7 425.4,838.8 424.9,838.9 424.4,839.1 423.9,839.2 423.4,839.3 422.9,839.4 422.4,839.6 421.9,839.7 421.4,839.9 420.9,840.0 420.4,840.1 419.9,840.3 419.4,840.5 418.9,840.6 418.4,840.8 417.9,841.0 417.4,841.1 416.9,841.3 416.4,841.5 415.9,841.7 415.4,841.9 414.9,842.1 414.4,842.3 413.9,842.6 413.4,842.8 412.9,843.0 412.4,843.3 411.9,843.6 411.4,843.9 410.9,844.2 410.4,844.5 409.9,844.9 409.4,845.2 408.9,845.6 408.4,846.1 407.9,846.5 407.4,847.0 406.9,847.5 406.4,848.1 405.9,848.7 405.4,849.4 404.9,850.1 404.4,850.9 403.9,851.8 403.4,852.7 402.9,853.7 402.4,854.9 401.9,856.1 401.4,857.4 400.9,858.9 400.4,860.6 399.9,862.4 399.4,864.4 398.9,866.6 398.4,869.1 397.9,871.8 397.4,874.8 396.9,878.1 396.4,881.8 395.9,885.9 395.4,890.5 394.9,895.6 394.4,901.2 393.9,907.5 393.4,914.5 392.9,922.2 392.4,930.9 391.9,940.5 391.4,951.3 390.9,963.3 390.4,976.6" fill="#a3d9b8"/>
<path d="M387.9 860.5 L390.4 957" stroke="#00a651" stroke-width="2.2" fill="none"/>
<polyline points="388.4,904.3 390.4,958.9 390.9,950.9 391.4,943.5 391.9,936.6 392.4,930.3 392.9,924.5 393.4,919.0 393.9,914.0 394.4,909.3 394.9,905.0 395.4,901.0 395.9,897.3 396.4,893.9 396.9,890.7 397.4,887.7 397.9,884.9 398.4,882.3 398.9,879.9 399.4,877.7 399.9,875.6 400.4,873.7 400.9,871.7 401.4,869.8 401.9,868.7 402.4,866.7 402.9,865.7 403.4,864.2 403.9,862.7 404.4,862.0 404.9,860.5 405.4,859.8 405.9,858.5 406.4,857.6 406.9,857.1 407.4,856.7 407.9,855.2 408.4,854.6 408.9,854.3 409.4,854.0 409.9,853.0 410.4,852.2 410.9,852.2 411.4,850.7 411.9,851.0 412.4,850.0 412.9,849.4 413.4,848.9 413.9,848.6 414.4,848.7 414.9,847.7 415.4,847.7 415.9,847.4 416.4,846.8 416.9,846.6 417.4,845.8 417.9,845.4 418.4,845.3 418.9,845.4 419.4,844.9 419.9,844.5 420.4,844.5 420.9,844.1 421.4,843.7 421.9,843.9 422.4,843.6 422.9,842.9 423.4,843.0 423.9,842.7 424.4,842.8 424.9,842.4 425.4,841.8 425.9,842.3 426.4,841.2 426.9,841.3 427.4,841.4 427.9,840.6 428.4,840.8 428.9,840.2 429.4,840.6 429.9,840.5 430.4,840.2 430.9,840.3 431.4,839.6 431.9,839.8 432.4,839.5 432.9,839.4 433.4,839.1 433.9,839.3 434.4,839.3 434.9,838.6 435.4,838.7 435.9,837.9 436.4,838.4 436.9,838.3 437.4,838.5 437.9,838.2 438.4,837.5 438.9,837.5 439.4,837.6 439.9,836.9 440.4,837.2 440.9,836.8 441.4,836.6 441.9,836.4 442.4,837.0 442.9,836.3 443.4,836.3 443.9,836.3 444.4,836.7 444.9,835.8 445.4,836.0 445.9,836.0 446.4,836.3 446.9,836.1 447.4,836.1 447.9,835.4 448.4,835.4 448.9,835.3 449.4,835.7 449.9,835.7 450.4,834.8 450.9,834.7 451.4,834.7 451.9,834.6 452.4,834.8 452.9,834.8 453.4,834.4 453.9,834.1 454.4,834.4 454.9,834.3 455.4,834.4 455.9,834.7 456.4,834.4 456.9,834.1 457.4,834.2 457.9,834.2 458.4,833.5 458.9,834.3 459.4,834.1 459.9,834.1 460.4,834.0 460.9,833.5 461.4,833.4 461.9,833.1 462.4,833.6 462.9,832.9 463.4,832.9 463.9,833.0 464.4,832.8 464.9,833.0 465.4,832.6 465.9,832.5 466.4,832.6 466.9,832.5 467.4,832.7 467.9,832.3 468.4,833.1 468.9,832.8 469.4,832.3 469.9,832.4 470.4,832.4 470.9,832.4 471.4,832.1 471.9,832.8 472.4,832.9 472.9,832.3 473.4,832.3 473.9,831.8 474.4,831.8 474.9,832.0 475.4,831.9 475.9,832.4 476.4,831.7 476.9,831.5 477.4,832.4 477.9,832.0 478.4,831.6 478.9,831.9 479.4,831.4 479.9,831.8 480.4,832.3 480.9,832.1 481.4,831.9 481.9,831.4 482.4,831.5 482.9,831.3 483.4,831.9 483.9,831.6 484.4,831.8 484.9,831.3 485.4,831.2 485.9,831.7 486.4,831.9 486.9,831.7 487.4,831.7 487.9,831.6 488.4,831.5 488.9,831.0 489.4,831.3 489.9,831.1 490.4,830.7 490.9,830.7 491.4,830.9 491.9,830.9 492.4,831.3 492.9,831.5 493.4,831.0 493.9,831.5 494.4,831.5 494.9,831.4 495.4,830.8 495.9,830.7 496.4,830.6 496.9,830.6 497.4,830.6 497.9,831.0 498.4,831.2 498.9,831.2 499.4,830.8 499.9,830.9 500.4,831.1 500.9,830.3 501.4,830.9 501.9,831.1 502.4,831.0 502.9,830.9 503.4,830.6 503.9,830.3 504.4,830.9 504.9,830.4 505.4,830.9 505.9,831.1 506.4,830.5" fill="none" stroke="#000" stroke-width="2.4" stroke-linejoin="round"/>
<polyline points="391.4,934.7 391.9,925.3 392.4,916.8 392.9,909.2 393.4,902.4 393.9,896.3 394.4,890.8 394.9,885.8 395.4,881.4 395.9,877.4 396.4,873.8 396.9,870.5 397.4,867.6 397.9,864.9 398.4,862.6 398.9,860.4 399.4,858.5 399.9,856.7 400.4,855.1 400.9,853.7 401.4,852.4 401.9,851.2 402.4,850.1 402.9,849.1 403.4,848.2 403.9,847.4 404.4,846.6 404.9,845.9 405.4,845.3 405.9,844.7 406.4,844.2 406.9,843.7 407.4,843.2 407.9,842.8 408.4,842.4 408.9,842.0 409.4,841.7 409.9,841.3 410.4,841.0 410.9,840.7 411.4,840.5 411.9,840.2 412.4,840.0 412.9,839.7 413.4,839.5 413.9,839.3 414.4,839.1 414.9,838.9 415.4,838.7 415.9,838.5 416.4,838.4 416.9,838.2 417.4,838.0 417.9,837.9 418.4,837.7 418.9,837.6 419.4,837.5 419.9,837.3 420.4,837.2 420.9,837.1 421.4,836.9 421.9,836.8 422.4,836.7 422.9,836.6 423.4,836.4 423.9,836.3 424.4,836.2 424.9,836.1 425.4,836.0 425.9,835.9 426.4,835.8 426.9,835.7 427.4,835.6 427.9,835.5 428.4,835.4 428.9,835.3 429.4,835.2 429.9,835.1 430.4,835.0 430.9,834.9 431.4,834.9 431.9,834.8 432.4,834.7 432.9,834.6 433.4,834.5 433.9,834.4 434.4,834.4 434.9,834.3 435.4,834.2 435.9,834.1 436.4,834.1 436.9,834.0 437.4,833.9 437.9,833.8 438.4,833.8 438.9,833.7 439.4,833.6 439.9,833.6 440.4,833.5 440.9,833.4 441.4,833.4 441.9,833.3 442.4,833.2 442.9,833.2 443.4,833.1 443.9,833.1 444.4,833.0 444.9,832.9 445.4,832.9 445.9,832.8 446.4,832.8 446.9,832.7 447.4,832.7 447.9,832.6 448.4,832.6 448.9,832.5 449.4,832.5 449.9,832.4 450.4,832.4 450.9,832.3 451.4,832.3 451.9,832.2 452.4,832.2 452.9,832.1 453.4,832.1 453.9,832.0 454.4,832.0 454.9,831.9 455.4,831.9 455.9,831.9 456.4,831.8 456.9,831.8 457.4,831.7 457.9,831.7 458.4,831.7 458.9,831.6 459.4,831.6 459.9,831.5 460.4,831.5 460.9,831.5 461.4,831.4 461.9,831.4 462.4,831.4 462.9,831.3 463.4,831.3 463.9,831.3 464.4,831.2 464.9,831.2 465.4,831.2 465.9,831.1 466.4,831.1 466.9,831.1 467.4,831.0 467.9,831.0 468.4,831.0 468.9,830.9 469.4,830.9 469.9,830.9 470.4,830.9 470.9,830.8 471.4,830.8 471.9,830.8 472.4,830.7 472.9,830.7 473.4,830.7 473.9,830.7 474.4,830.6 474.9,830.6 475.4,830.6 475.9,830.6 476.4,830.5 476.9,830.5 477.4,830.5 477.9,830.5 478.4,830.5 478.9,830.4 479.4,830.4 479.9,830.4 480.4,830.4 480.9,830.3 481.4,830.3 481.9,830.3 482.4,830.3 482.9,830.3 483.4,830.2 483.9,830.2 484.4,830.2 484.9,830.2 485.4,830.2 485.9,830.2 486.4,830.1 486.9,830.1 487.4,830.1 487.9,830.1 488.4,830.1 488.9,830.1 489.4,830.0 489.9,830.0 490.4,830.0 490.9,830.0 491.4,830.0 491.9,830.0 492.4,829.9 492.9,829.9 493.4,829.9 493.9,829.9 494.4,829.9 494.9,829.9 495.4,829.9 495.9,829.8 496.4,829.8 496.9,829.8 497.4,829.8 497.9,829.8 498.4,829.8 498.9,829.8 499.4,829.8 499.9,829.7 500.4,829.7 500.9,829.7 501.4,829.7 501.9,829.7 502.4,829.7 502.9,829.7 503.4,829.7 503.9,829.6 504.4,829.6 504.9,829.6 505.4,829.6 505.9,829.6 506.4,829.6" fill="none" stroke="#00a651" stroke-width="2.2" stroke-linejoin="round"/>
<path d="M438.3 886.4 V944.7 H472" fill="none" stroke="#000" stroke-width="1.9"/>
<text x="449.7" y="924.3" font-size="22.5" textLength="64" lengthAdjust="spacingAndGlyphs">0.1 nA</text>
<text x="430.5" y="968.8" font-size="22.5" textLength="49.3" lengthAdjust="spacingAndGlyphs">0.1 s</text>
</g>
</svg>
</body></html>
